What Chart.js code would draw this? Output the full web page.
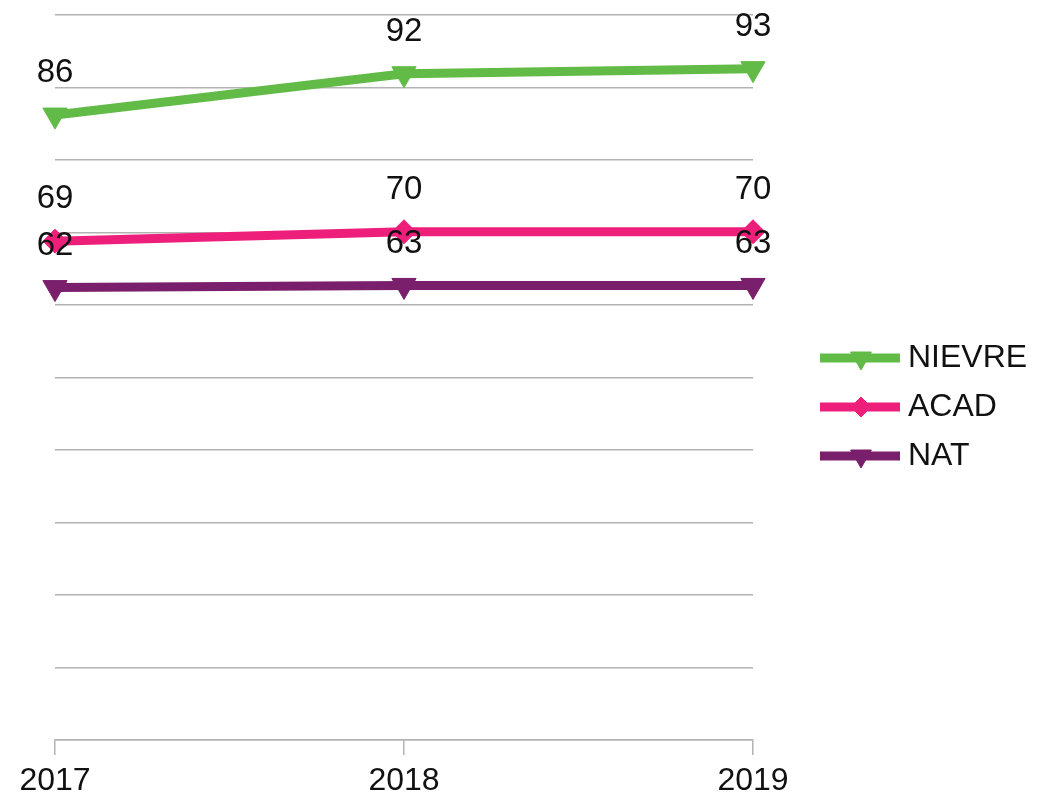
<!DOCTYPE html>
<html>
<head>
<meta charset="utf-8">
<style>
  html, body { margin: 0; padding: 0; background: #fff; }
  canvas { display: block; }
</style>
<script src="https://cdn.jsdelivr.net/npm/chart.js"></script>
</head>
<body>
<canvas id="chart" width="1039" height="799"></canvas>
<script>
const years = ['2017', '2018', '2019'];
const nievre = [86.2, 91.9, 92.6];
const acad = [68.8, 70.1, 70.1];
const nat = [62.4, 62.7, 62.7];

const GRID = '#b3b3b3';
const FONT = '"Liberation Sans", Arial, sans-serif';

// value labels above each point
const valueLabels = {
    id: 'valueLabels',
    afterDatasetsDraw(chart) {
        const ctx = chart.ctx;
        ctx.save();
        ctx.font = '33px ' + FONT;
        ctx.fillStyle = '#111';
        ctx.textAlign = 'center';
        ctx.textBaseline = 'middle';
        chart.data.datasets.forEach((ds, i) => {
            chart.getDatasetMeta(i).data.forEach((pt, j) => {
                ctx.fillText(Math.round(ds.data[j]), pt.x, pt.y - 42);
            });
        });
        ctx.restore();
    }
};

// legend on the right: line + marker + name
const sideLegend = {
    id: 'sideLegend',
    afterDraw(chart) {
        const ctx = chart.ctx;
        ctx.save();
        chart.data.datasets.forEach((ds, i) => {
            const y = 358 + i * 49;
            ctx.strokeStyle = ds.borderColor;
            ctx.lineWidth = 9;
            ctx.beginPath();
            ctx.moveTo(820, y);
            ctx.lineTo(900, y);
            ctx.stroke();
            ctx.fillStyle = ds.borderColor;
            ctx.strokeStyle = ds.borderColor;
            ctx.lineWidth = 1;
            Chart.helpers.drawPoint(ctx, {
                pointStyle: ds.pointStyle,
                radius: ds.pointStyle === 'triangle' ? 12 : 10,
                rotation: ds.pointRotation || 0,
                borderWidth: 1
            }, 861, y);
            ctx.fillStyle = '#111';
            ctx.font = '32px ' + FONT;
            ctx.textAlign = 'left';
            ctx.textBaseline = 'middle';
            ctx.fillText(ds.label, 908, y);
        });
        ctx.restore();
    }
};

function series(label, data, color, style, rot) {
    return {
        label: label,
        data: data,
        borderColor: color,
        backgroundColor: color,
        borderWidth: 9,
        tension: 0,
        pointStyle: style,
        pointRotation: rot,
        pointRadius: style === 'triangle' ? 14 : 12,
        pointBorderWidth: 1,
        pointBackgroundColor: color,
        pointBorderColor: color
    };
}

new Chart(document.getElementById('chart'), {
    type: 'line',
    data: {
        labels: years,
        datasets: [
            series('NIEVRE', nievre, '#62bb46', 'triangle', 180),
            series('ACAD', acad, '#ee1f7b', 'rectRot', 0),
            series('NAT', nat, '#7a1f6b', 'triangle', 180)
        ]
    },
    options: {
        responsive: false,
        animation: false,
        layout: { padding: { left: 55, top: 13, right: 286, bottom: 0 } },
        plugins: {
            legend: { display: false },
            tooltip: { enabled: false }
        },
        scales: {
            x: {
                offset: false,
                grid: { drawOnChartArea: false, drawTicks: true, tickLength: 15, color: GRID, lineWidth: 1.5 },
                border: { display: true, color: GRID, width: 1.5 },
                ticks: { color: '#111', font: { family: FONT, size: 32 }, padding: 7, maxRotation: 0 },
                afterFit(scale) { scale.height = 59; }
            },
            y: {
                min: 0,
                max: 100,
                ticks: { stepSize: 10, display: false },
                grid: { color: GRID, lineWidth: 1.5, drawTicks: false },
                border: { display: false },
                afterFit(scale) { scale.width = 0; }
            }
        }
    },
    plugins: [valueLabels, sideLegend]
});
</script>
</body>
</html>
